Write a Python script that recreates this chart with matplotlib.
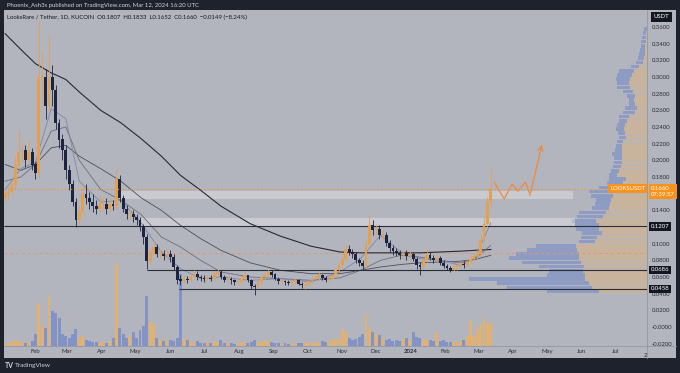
import numpy as np
import pandas as pd
import matplotlib
matplotlib.use("Agg")
import matplotlib.pyplot as plt
import matplotlib.dates as mdates
from matplotlib.patches import Rectangle
from matplotlib.lines import Line2D
from matplotlib.transforms import blended_transform_factory

# 3-day candles, LOOKS/USDT Jan 2023 - Mar 2024
start_date = '2023-01-05'
first_open = 0.155
closes = [0.160, 0.162, 0.170, 0.195, 0.210, 0.212, 0.200, 0.210, 0.195, 0.185,
          0.300, 0.300, 0.265, 0.300, 0.285, 0.245, 0.225, 0.212, 0.188, 0.172,
          0.150, 0.128, 0.138, 0.160, 0.155, 0.150, 0.145, 0.142, 0.148, 0.148,
          0.142, 0.148, 0.145, 0.178, 0.155, 0.142, 0.136, 0.136, 0.132, 0.128,
          0.120, 0.108, 0.079, 0.090, 0.096, 0.088, 0.088, 0.085, 0.088, 0.084,
          0.072, 0.057, 0.055, 0.058, 0.056, 0.060, 0.064, 0.060, 0.059, 0.058,
          0.059, 0.058, 0.064, 0.066, 0.060, 0.057, 0.058, 0.056, 0.054, 0.054,
          0.058, 0.062, 0.056, 0.049, 0.048, 0.054, 0.060, 0.062, 0.066, 0.063,
          0.058, 0.055, 0.055, 0.054, 0.053, 0.054, 0.056, 0.052, 0.050, 0.050,
          0.055, 0.058, 0.059, 0.062, 0.059, 0.056, 0.058, 0.062, 0.068, 0.074,
          0.082, 0.094, 0.090, 0.088, 0.080, 0.077, 0.073, 0.100, 0.122, 0.116,
          0.118, 0.110, 0.110, 0.101, 0.095, 0.091, 0.089, 0.086, 0.089, 0.085,
          0.087, 0.082, 0.075, 0.072, 0.080, 0.087, 0.083, 0.080, 0.083, 0.077,
          0.073, 0.071, 0.069, 0.071, 0.075, 0.076, 0.074, 0.078, 0.082, 0.085,
          0.088, 0.105, 0.124, 0.150, 0.166]
highs = [0.166, 0.168, 0.178, 0.205, 0.236, 0.222, 0.218, 0.225, 0.215, 0.198,
         0.368, 0.330, 0.310, 0.350, 0.315, 0.290, 0.250, 0.232, 0.218, 0.195,
         0.176, 0.155, 0.145, 0.170, 0.172, 0.162, 0.160, 0.152, 0.158, 0.156,
         0.155, 0.156, 0.152, 0.190, 0.182, 0.158, 0.146, 0.142, 0.140, 0.136,
         0.132, 0.124, 0.112, 0.095, 0.106, 0.100, 0.094, 0.092, 0.094, 0.092,
         0.088, 0.075, 0.062, 0.062, 0.061, 0.064, 0.068, 0.067, 0.063, 0.062,
         0.063, 0.062, 0.067, 0.070, 0.068, 0.062, 0.061, 0.060, 0.058, 0.057,
         0.061, 0.066, 0.063, 0.058, 0.052, 0.057, 0.063, 0.065, 0.070, 0.068,
         0.065, 0.060, 0.058, 0.057, 0.056, 0.057, 0.059, 0.058, 0.054, 0.053,
         0.057, 0.061, 0.062, 0.066, 0.064, 0.061, 0.060, 0.064, 0.071, 0.078,
         0.086, 0.100, 0.098, 0.094, 0.090, 0.083, 0.080, 0.104, 0.136, 0.128,
         0.124, 0.122, 0.116, 0.114, 0.104, 0.098, 0.095, 0.092, 0.093, 0.092,
         0.091, 0.089, 0.084, 0.078, 0.083, 0.094, 0.090, 0.086, 0.087, 0.085,
         0.080, 0.076, 0.073, 0.074, 0.078, 0.079, 0.079, 0.081, 0.086, 0.089,
         0.093, 0.112, 0.132, 0.156, 0.190]
lows = [0.150, 0.154, 0.158, 0.166, 0.190, 0.198, 0.192, 0.196, 0.188, 0.178,
        0.180, 0.270, 0.250, 0.258, 0.265, 0.238, 0.215, 0.200, 0.178, 0.165,
        0.145, 0.120, 0.122, 0.135, 0.148, 0.142, 0.138, 0.136, 0.138, 0.140,
        0.136, 0.138, 0.140, 0.142, 0.150, 0.138, 0.130, 0.130, 0.126, 0.122,
        0.115, 0.100, 0.070, 0.074, 0.086, 0.084, 0.082, 0.080, 0.082, 0.078,
        0.068, 0.052, 0.050, 0.053, 0.053, 0.054, 0.058, 0.057, 0.055, 0.054,
        0.055, 0.055, 0.056, 0.061, 0.058, 0.054, 0.054, 0.052, 0.051, 0.051,
        0.052, 0.056, 0.054, 0.046, 0.038, 0.047, 0.052, 0.058, 0.060, 0.060,
        0.056, 0.052, 0.052, 0.051, 0.050, 0.051, 0.052, 0.050, 0.047, 0.046,
        0.049, 0.053, 0.056, 0.057, 0.057, 0.054, 0.054, 0.056, 0.060, 0.066,
        0.071, 0.080, 0.086, 0.083, 0.077, 0.073, 0.070, 0.071, 0.098, 0.110,
        0.110, 0.106, 0.104, 0.097, 0.090, 0.087, 0.085, 0.082, 0.083, 0.081,
        0.081, 0.079, 0.070, 0.062, 0.070, 0.078, 0.080, 0.077, 0.078, 0.074,
        0.071, 0.068, 0.066, 0.067, 0.069, 0.072, 0.071, 0.072, 0.077, 0.079,
        0.082, 0.085, 0.100, 0.118, 0.145]
volumes = [2, 3, 4, 6, 5, 4, 3, 4, 5, 12,
           43, 20, 18, 50, 35, 33, 28, 12, 10, 8,
           12, 17, 8, 10, 6, 5, 4, 4, 3, 4,
           3, 5, 8, 83, 18, 12, 8, 10, 14, 8,
           16, 20, 50, 24, 22, 8, 6, 5, 7, 6,
           5, 8, 72, 8, 6, 5, 4, 5, 3, 3,
           4, 3, 5, 4, 6, 3, 3, 3, 2, 3,
           3, 4, 3, 4, 6, 4, 4, 5, 5, 4,
           3, 3, 2, 3, 2, 3, 2, 3, 3, 4,
           3, 3, 4, 3, 5, 4, 5, 6, 7, 8,
           17, 14, 8, 6, 7, 9, 12, 32, 18, 14,
           12, 11, 8, 6, 7, 5, 6, 5, 7, 8,
           6, 14, 9, 8, 6, 7, 6, 5, 13, 5,
           6, 4, 4, 5, 4, 5, 6, 10, 25, 10,
           16, 22, 28, 24, 22]

# moving averages read at sample dates
ma_dates = ['2023-01-05', '2023-01-19', '2023-02-01', '2023-02-15', '2023-02-28',
            '2023-03-12', '2023-03-31', '2023-04-18', '2023-05-06', '2023-05-24',
            '2023-06-10', '2023-06-28', '2023-07-16', '2023-08-11', '2023-09-07',
            '2023-10-04', '2023-10-30', '2023-11-17', '2023-12-05', '2023-12-23',
            '2024-01-09', '2024-01-27', '2024-02-14', '2024-02-27', '2024-03-12']
ma200 = [0.352, 0.333, 0.316, 0.305, 0.297, 0.282, 0.260, 0.245, 0.226, 0.205,
         0.182, 0.164, 0.145, 0.124, 0.109, 0.097, 0.090, 0.089, 0.089, 0.089,
         0.089, 0.090, 0.091, 0.092, 0.093]
ma100 = [0.195, 0.188, 0.195, 0.215, 0.218, 0.205, 0.190, 0.175, 0.155, 0.140,
         0.122, 0.106, 0.092, 0.077, 0.068, 0.064, 0.064, 0.068, 0.072, 0.075,
         0.077, 0.078, 0.079, 0.081, 0.086]
ma50 = [0.175, 0.180, 0.195, 0.235, 0.240, 0.200, 0.165, 0.152, 0.135, 0.108,
        0.096, 0.080, 0.066, 0.060, 0.058, 0.056, 0.059, 0.068, 0.080, 0.086,
        0.084, 0.080, 0.077, 0.082, 0.098]
ma20 = [0.165, 0.190, 0.198, 0.262, 0.250, 0.175, 0.150, 0.152, 0.125, 0.090,
        0.070, 0.058, 0.060, 0.056, 0.058, 0.054, 0.066, 0.082, 0.110, 0.090,
        0.082, 0.080, 0.074, 0.082, 0.125]

# volume profile (visible range), bins of 0.005 from 0.040
vp_bin_low = 0.040
vp_bin_size = 0.005
vp_up = [48, 55, 58, 62, 62, 64, 63, 66, 68, 68,
         70, 71, 52, 50, 45, 48, 48, 51, 44, 41,
         38, 37, 36, 34, 33, 28, 24, 21, 30, 28,
         26, 25, 25, 25, 25, 25, 24, 21, 22, 23,
         22, 20, 18, 12, 10, 12, 13, 12, 14, 17,
         18, 17, 15, 13, 8, 4, 3, 2, 2, 2,
         1, 1, 1, 0]
vp_down = [52, 85, 92, 116, 38, 34, 45, 59, 70, 63,
           50, 40, 16, 16, 20, 23, 24, 24, 26, 27,
           17, 15, 15, 22, 25, 20, 16, 17, 8, 8,
           8, 8, 8, 10, 7, 6, 6, 7, 7, 8,
           8, 8, 10, 12, 12, 6, 5, 8, 10, 13,
           12, 14, 15, 15, 8, 7, 6, 6, 5, 4,
           5, 4, 3, 3]

# drawings
levels = [0.1207, 0.0686, 0.0458]
level_starts = ['2023-01-04', '2023-05-11', '2023-06-09']
last_price = 0.1660
poc_price = 0.089
zones = [('2023-04-13', '2024-05-24', 0.154, 0.163),
         ('2023-05-06', '2024-05-26', 0.121, 0.131)]
proj_dates = ['2024-03-15', '2024-03-24', '2024-03-31', '2024-04-05',
              '2024-04-12', '2024-04-16', '2024-04-27']
proj_prices = [0.174, 0.1536, 0.1716, 0.163, 0.174, 0.158, 0.222]

tick_dates = ['2023-02-01', '2023-03-01', '2023-04-01', '2023-05-01', '2023-06-01',
              '2023-07-01', '2023-08-01', '2023-09-01', '2023-10-01', '2023-11-01',
              '2023-12-01', '2024-01-01', '2024-02-01', '2024-03-01', '2024-04-01',
              '2024-05-01', '2024-06-01', '2024-07-01']
tick_labels = ['Feb', 'Mar', 'Apr', 'May', 'Jun', 'Jul', 'Aug', 'Sep', 'Oct', 'Nov',
               'Dec', '2024', 'Feb', 'Mar', 'Apr', 'May', 'Jun', 'Jul']
price_ticks = [-0.02, 0.0, 0.02, 0.04, 0.06, 0.08, 0.10, 0.14, 0.18, 0.20,
               0.22, 0.24, 0.26, 0.28, 0.30, 0.32, 0.34, 0.36]
price_labels = ['-0.0200', '-0.0000', '0.0200', '0.0400', '0.0600', '0.0800', '0.1000',
                '0.1400', '0.1800', '0.2000', '0.2200', '0.2400', '0.2600', '0.2800',
                '0.3000', '0.3200', '0.3400', '0.3600']

UP = '#e3a050'
DOWN = '#1d2440'
VOL_UP = '#dfb273'
VOL_DOWN = '#8393c6'
PANEL = '#b2b5be'
INK = '#2a2e39'

plt.rcParams['font.family'] = ['Lato', 'DejaVu Sans']

W, H = 680, 373
fig = plt.figure(figsize=(6.8, 3.73), dpi=100)
fig.patch.set_facecolor('#1e222d')


def fx(px):
    return px / W


def fy(py):
    return 1 - py / H


fig.patches.append(Rectangle((fx(4), fy(358)), fx(676) - fx(4), fy(10) - fy(358),
                             transform=fig.transFigure, facecolor=PANEL,
                             edgecolor='none', zorder=-5))

rect = [fx(4), fy(346), fx(647) - fx(4), fy(10) - fy(346)]
x0 = pd.Timestamp('2023-01-04')
x1 = pd.Timestamp('2024-07-29')
y0, y1 = -0.0228, 0.3804

# volume profile, drawn from the right edge
ax_vp = fig.add_axes(rect)
ax_vp.axis('off')
vp_price = vp_bin_low + vp_bin_size * (np.arange(len(vp_up)) + 0.5)
ax_vp.barh(vp_price, vp_up, height=vp_bin_size * 0.85, color='#c8b49c', linewidth=0)
ax_vp.barh(vp_price, vp_down, left=vp_up, height=vp_bin_size * 0.85,
           color='#8e9bc2', linewidth=0)
ax_vp.set_xlim(643, 0)
ax_vp.set_ylim(y0, y1)

dates = pd.date_range(start_date, periods=len(closes), freq='3D')
closes = np.array(closes)
opens = np.concatenate([[first_open], closes[:-1]])
up = closes >= opens

# volume
ax_vol = fig.add_axes(rect)
ax_vol.axis('off')
ax_vol.bar(dates, volumes, width=2.6, color=np.where(up, VOL_UP, VOL_DOWN), linewidth=0)
ax_vol.set_xlim(x0, x1)
ax_vol.set_ylim(0, 336)

# price
ax = fig.add_axes(rect)
ax.patch.set_alpha(0)
for s in ax.spines.values():
    s.set_visible(False)
ax.set_xlim(x0, x1)
ax.set_ylim(y0, y1)

for a, b, lo, hi in zones:
    xa = mdates.date2num(pd.Timestamp(a))
    xb = mdates.date2num(pd.Timestamp(b))
    ax.add_patch(Rectangle((xa, lo), xb - xa, hi - lo, facecolor='white',
                           alpha=0.3, edgecolor='none', zorder=1))

md = pd.to_datetime(ma_dates)
ax.plot(md, ma200, color='#262a36', lw=0.8, zorder=2)
ax.plot(md, ma100, color='#4b4f5c', lw=0.6, zorder=2)
ax.plot(md, ma50, color='#6c707d', lw=0.6, zorder=2)
ax.plot(md, ma20, color='#7e86ad', lw=0.6, zorder=2)

for lv, st in zip(levels, level_starts):
    ax.hlines(lv, pd.Timestamp(st), x1, color=INK, lw=0.8, zorder=2.5)

ccol = np.where(up, UP, DOWN)
ax.vlines(dates, lows, highs, colors=ccol, lw=0.6, zorder=3)
body = np.maximum(np.abs(closes - opens), 0.0012)
ax.bar(dates, body, bottom=np.minimum(opens, closes), width=2.5, color=ccol,
       linewidth=0, zorder=3.1)

ax.axhline(last_price, color='#f7931a', lw=0.8, ls=(0, (1, 2)), zorder=4)
ax.axhline(poc_price, color='#e8946c', lw=0.7, ls=(0, (3, 3)), zorder=1.5)

pd_dates = pd.to_datetime(proj_dates)
ax.plot(pd_dates[:-1], proj_prices[:-1], color='#f08a3c', lw=0.9, zorder=5)
ax.annotate('', xy=(pd_dates[-1], proj_prices[-1]), xytext=(pd_dates[-2], proj_prices[-2]),
            arrowprops=dict(arrowstyle='->,head_length=0.35,head_width=0.18',
                            color='#f08a3c', lw=0.9), zorder=5)

ax.set_xticks(pd.to_datetime(tick_dates))
ax.set_xticklabels(tick_labels)
ax.tick_params(axis='x', length=0, pad=2.5, labelsize=4.3, labelcolor=INK)
for t in ax.get_xticklabels():
    if t.get_text() == '2024':
        t.set_fontweight('bold')
ax.yaxis.tick_right()
ax.set_yticks(price_ticks)
ax.set_yticklabels(price_labels)
ax.tick_params(axis='y', length=0, pad=3.2, labelsize=4.3, labelcolor=INK)
ax.text(1.0, -0.02, '2', transform=ax.transAxes, ha='right', va='top',
        fontsize=4.3, color=INK)

tr = blended_transform_factory(ax.transAxes, ax.transData)
for lv in levels:
    ax.text(1.006, lv, f'{lv:.4f}', transform=tr, ha='left', va='center', fontsize=4.3,
            color='white', clip_on=False, zorder=10,
            bbox=dict(boxstyle='square,pad=0.3', fc='#131722', ec='none'))
ax.text(0.9975, last_price, 'LOOKSUSDT', transform=tr, ha='right', va='center',
        fontsize=4.3, color='white', clip_on=False, zorder=10,
        bbox=dict(boxstyle='square,pad=0.3', fc='#f7931a', ec='none'))
ax.text(1.006, last_price + 0.0035, f'{last_price:.4f}\n07:39:57', transform=tr,
        ha='left', va='top', fontsize=4.3, color='white', clip_on=False, zorder=10,
        linespacing=1.3, bbox=dict(boxstyle='square,pad=0.3', fc='#f7931a', ec='none'))

fig.add_artist(Line2D([fx(647), fx(647)], [fy(10), fy(358)], color='#9598a1', lw=0.6))
fig.add_artist(Line2D([fx(4), fx(676)], [fy(346), fy(346)], color='#9598a1', lw=0.6))

fig.text(fx(654), fy(17), 'USDT', fontsize=4.3, color='white', va='center',
         bbox=dict(boxstyle='square,pad=0.45', fc='#131722', ec='none'))
fig.text(fx(7), fy(5), 'Phoenix_Ash3s published on TradingView.com, Mar 12, 2024 16:20 UTC',
         fontsize=4.3, color='#d1d4dc', va='center')
fig.text(fx(7), fy(17), 'LooksRare / Tether, 1D, KUCOIN  O0.1807  H0.1833  L0.1652  '
         'C0.1660  \u22120.0149 (\u22128.24%)', fontsize=4.3, color='#131722', va='center')
fig.text(fx(5), fy(366), 'TV', fontsize=5, color='#d1d4dc', va='center', fontweight='bold')
fig.text(fx(15), fy(366), 'TradingView', fontsize=4.6, color='#d1d4dc', va='center')

fig.savefig('out.png', dpi=100, facecolor=fig.get_facecolor())
